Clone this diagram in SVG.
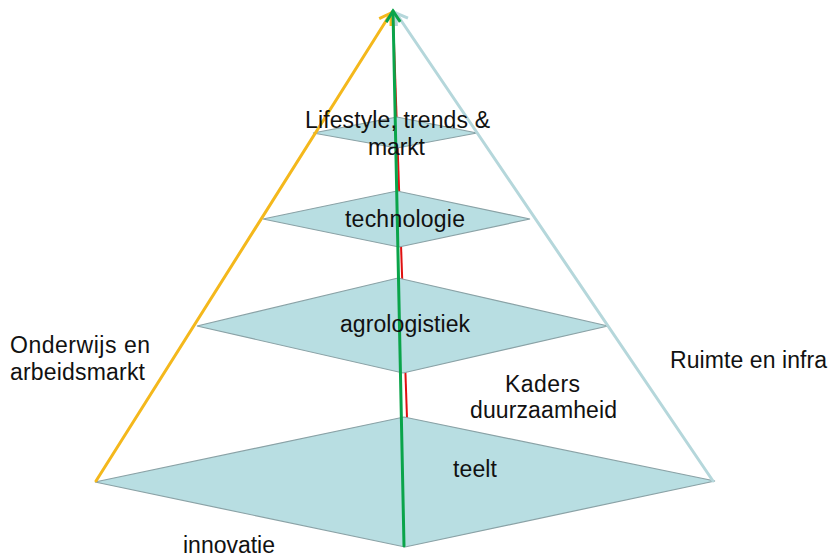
<svg xmlns="http://www.w3.org/2000/svg" width="831" height="558" viewBox="0 0 831 558">
<style>
.layer{fill:#b8dee2;stroke:#8aa2a6;stroke-width:1.2}
.lbl{font-family:"Liberation Sans",Arial,sans-serif;font-size:23px;fill:#111}
.edge{fill:none;stroke-width:3;stroke-linecap:round}
</style>
<defs>
<marker id="ahO" markerUnits="userSpaceOnUse" markerWidth="20" markerHeight="20" viewBox="-14 -10 18 20" refX="0" refY="0" orient="auto"><path d="M-11,-7 L0,0 L-11,7" fill="none" stroke="#f4b81c" stroke-width="3"/></marker>
<marker id="ahB" markerUnits="userSpaceOnUse" markerWidth="20" markerHeight="20" viewBox="-14 -10 18 20" refX="0" refY="0" orient="auto"><path d="M-11,-7 L0,0 L-11,7" fill="none" stroke="#b5d7db" stroke-width="3"/></marker>
<marker id="ahG" markerUnits="userSpaceOnUse" markerWidth="20" markerHeight="20" viewBox="-14 -10 18 20" refX="0" refY="0" orient="auto"><path d="M-11,-7 L0,0 L-11,7" fill="none" stroke="#0aa44a" stroke-width="3"/></marker>
</defs>
<rect width="831" height="558" fill="#ffffff"/>
<g id="red-axis"><line x1="407" y1="418" x2="393" y2="14" stroke="#e01010" stroke-width="2"/></g>
<g id="node-teelt"><polygon class="layer" points="95,482 404,417 715,481 405,547"/></g>
<g id="node-agrologistiek"><polygon class="layer" points="197,326 398,278 608,326 403,373"/></g>
<g id="node-technologie"><polygon class="layer" points="263,219 397,191 530,219 399,247"/></g>
<g id="node-lifestyle"><polygon class="layer" points="313,133 397,117 477,133 397,148"/></g>
<g id="connectors">
<line class="edge" x1="96" y1="481" x2="391" y2="13" stroke="#f4b81c" marker-end="url(#ahO)"/>
<line class="edge" x1="713" y1="481" x2="396" y2="13" stroke="#b5d7db" marker-end="url(#ahB)"/>
<line class="edge" x1="404" y1="546" x2="393" y2="11" stroke="#0aa44a" marker-end="url(#ahG)"/>
</g>
<g id="labels-nodes">
<text class="lbl" x="305" y="128" textLength="185" lengthAdjust="spacing">Lifestyle, trends &amp;</text>
<text class="lbl" x="368" y="155" textLength="57" lengthAdjust="spacing">markt</text>
<text class="lbl" x="345" y="227" textLength="120" lengthAdjust="spacing">technologie</text>
<text class="lbl" x="340" y="332" textLength="130" lengthAdjust="spacing">agrologistiek</text>
<text class="lbl" x="453" y="477" textLength="44" lengthAdjust="spacing">teelt</text>
</g>
<g id="labels-side">
<text class="lbl" x="505" y="392" textLength="75" lengthAdjust="spacing">Kaders</text>
<text class="lbl" x="470" y="418" textLength="147" lengthAdjust="spacing">duurzaamheid</text>
<text class="lbl" x="183" y="553" textLength="92" lengthAdjust="spacing">innovatie</text>
<text class="lbl" x="10" y="353" textLength="140" lengthAdjust="spacing">Onderwijs en</text>
<text class="lbl" x="10" y="380" textLength="135" lengthAdjust="spacing">arbeidsmarkt</text>
<text class="lbl" x="670" y="368" textLength="157" lengthAdjust="spacing">Ruimte en infra</text>
</g>
</svg>
